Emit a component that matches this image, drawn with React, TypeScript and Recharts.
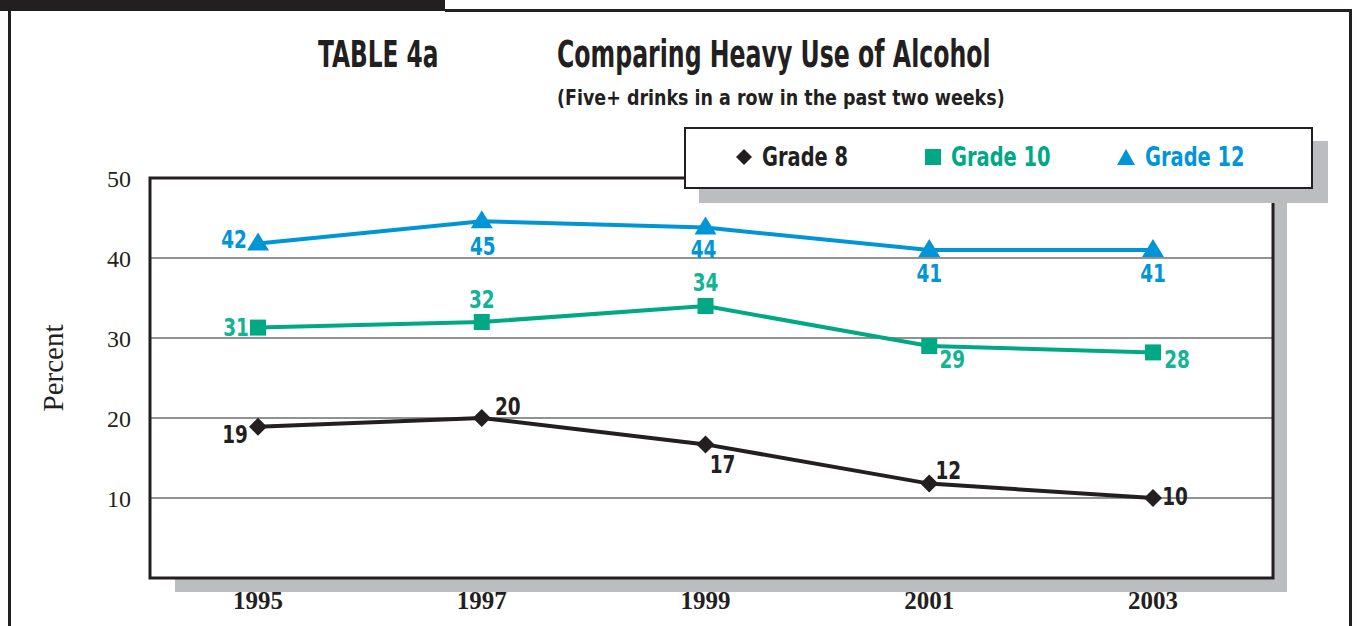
import { LineChart, Line, XAxis, YAxis, CartesianGrid, ReferenceArea, LabelList, Label } from 'recharts'

const years = ['1995', '1997', '1999', '2001', '2003']
const grade8 = [18.9, 20, 16.7, 11.8, 10]
const grade10 = [31.3, 32, 34, 29, 28.2]
const grade12 = [41.8, 44.6, 43.8, 41, 41]
const yTicks = [10, 20, 30, 40, 50]

const data = years.map((year, i) => ({ year, g8: grade8[i], g10: grade10[i], g12: grade12[i], frame: 0.5 }))

const DARK = '#231f20'
const GREEN = '#00a984'
const BLUE = '#0096d6'
const SHADOW = '#bcbdc0'
const COND = "'DejaVu Sans Condensed', 'Liberation Sans Narrow', sans-serif"
const SERIF = "'Liberation Serif', 'Times New Roman', serif"

// where each value label sits relative to its point
const off8 = [[-23, 7], [26, -12], [17, 20], [19, -13], [22, -2]]
const off10 = [[-22, 0], [0, -23], [0, -24], [23, 13], [24, 7]]
const off12 = [[-24, -4], [1, 25], [-2, 22], [0, 23], [0, 23]]

const Diamond = (p: any) => {
  const { cx, cy } = p
  return <path d={`M${cx},${cy - 9}L${cx + 9},${cy}L${cx},${cy + 9}L${cx - 9},${cy}Z`} fill={DARK} />
}
const Square = (p: any) => {
  const { cx, cy } = p
  return <rect x={cx - 8} y={cy - 8} width={16} height={16} fill={GREEN} />
}
const Triangle = (p: any) => {
  const { cx, cy } = p
  return <path d={`M${cx},${cy - 11}L${cx + 11},${cy + 7}L${cx - 11},${cy + 7}Z`} fill={BLUE} />
}

const valueLabel = (offsets: number[][], color: string) => (p: any) => {
  const { x, y, index, value } = p
  const [dx, dy] = offsets[index]
  return (
    <text transform={`translate(${x + dx} ${y + dy}) scale(0.82 1)`} textAnchor="middle" dominantBaseline="central" fill={color}
      style={{ fontFamily: COND, fontWeight: 700, fontSize: 25 }}>
      {Math.round(value)}
    </text>
  )
}

const PlotFrame = (p: any) => {
  const { x, y, width, height } = p
  const r = x + width
  const b = y + height
  return (
    <g>
      <path d={`M${r},${y + 12}H${r + 14}V${b + 14}H${x + 25}V${b}H${r}Z`} fill={SHADOW} />
      <rect x={x} y={y} width={width} height={height} fill="none" stroke={DARK} strokeWidth={3} />
    </g>
  )
}

const legendItems = [
  { name: 'Grade 8', color: DARK, left: 49, shape: 'diamond' },
  { name: 'Grade 10', color: GREEN, left: 238, shape: 'square' },
  { name: 'Grade 12', color: BLUE, left: 430, shape: 'triangle' },
]

function LegendMark({ shape, color }: { shape: string; color: string }) {
  if (shape === 'diamond') return <svg width={18} height={18}><path d="M9,1L17,9L9,17L1,9Z" fill={color} /></svg>
  if (shape === 'square') return <svg width={18} height={18}><rect x={1} y={1} width={16} height={16} fill={color} /></svg>
  return <svg width={20} height={18}><path d="M10,1L19,17L1,17Z" fill={color} /></svg>
}

const condText = (size: number, sx: number): any => ({
  fontFamily: COND, fontWeight: 700, fontSize: size, color: DARK, whiteSpace: 'nowrap',
  transform: `scaleX(${sx})`, transformOrigin: 'left center',
})

export default function App() {
  return (
    <div style={{ position: 'absolute', left: 0, top: 0, width: 1357, height: 626, background: '#fff', overflow: 'hidden' }}>
      {/* page frame */}
      <div style={{ position: 'absolute', left: 0, top: 0, width: 445, height: 11, background: DARK }} />
      <div style={{ position: 'absolute', left: 445, top: 9, width: 907, height: 3, background: DARK }} />
      <div style={{ position: 'absolute', left: 8, top: 9, width: 3, height: 620, background: DARK }} />
      <div style={{ position: 'absolute', left: 1349, top: 9, width: 3, height: 620, background: DARK }} />

      <div style={{ position: 'absolute', left: 318, top: 33, ...condText(37, 0.7) }}>TABLE 4a</div>
      <div style={{ position: 'absolute', left: 557, top: 33, ...condText(37, 0.71) }}>Comparing Heavy Use of Alcohol</div>
      <div style={{ position: 'absolute', left: 557, top: 86, ...condText(21, 0.925) }}>(Five+ drinks in a row in the past two weeks)</div>

      <div style={{ position: 'absolute', left: 0, top: 0 }}>
        <LineChart width={1357} height={626} data={data} margin={{ top: 178, right: 84, bottom: 8, left: 30 }}>
          <CartesianGrid vertical={false} stroke="#6d6e71" strokeWidth={1.5} />
          <XAxis dataKey="year" padding={{ left: 108, right: 120 }} axisLine={false} tickLine={false} height={40} tickMargin={7}
            tick={{ fill: DARK, fontFamily: SERIF, fontWeight: 700, fontSize: 25 }} />
          <XAxis xAxisId="frame" dataKey="frame" type="number" domain={[0, 1]} allowDataOverflow hide />
          <YAxis domain={[0, 50]} ticks={yTicks} width={120} axisLine={false} tickLine={false} tickMargin={13}
            tick={{ fill: DARK, fontFamily: SERIF, fontSize: 24 }}>
            <Label content={(p: any) => {
              const vb = p.viewBox
              const cx = vb.x + 23
              const cy = vb.y + vb.height / 2 - 10
              return (
                <text x={cx} y={cy} transform={`rotate(-90 ${cx} ${cy})`} textAnchor="middle" dominantBaseline="central"
                  fill={DARK} style={{ fontFamily: SERIF, fontSize: 29 }}>Percent</text>
              )
            }} />
          </YAxis>
          <ReferenceArea xAxisId="frame" x1={0} x2={1} y1={0} y2={50} shape={PlotFrame} ifOverflow="visible" />
          <Line dataKey="g8" stroke={DARK} strokeWidth={4} dot={Diamond} isAnimationActive={false}>
            <LabelList dataKey="g8" content={valueLabel(off8, DARK)} />
          </Line>
          <Line dataKey="g10" stroke={GREEN} strokeWidth={4} dot={Square} isAnimationActive={false}>
            <LabelList dataKey="g10" content={valueLabel(off10, '#14b394')} />
          </Line>
          <Line dataKey="g12" stroke={BLUE} strokeWidth={4} dot={Triangle} isAnimationActive={false}>
            <LabelList dataKey="g12" content={valueLabel(off12, BLUE)} />
          </Line>
        </LineChart>
      </div>

      {/* legend box */}
      <div style={{ position: 'absolute', left: 684, top: 127, width: 625, height: 58, border: `2.5px solid ${DARK}`, background: '#fff', boxShadow: `15px 14px 0 ${SHADOW}` }}>
        {legendItems.map(it => (
          <div key={it.name} style={{ position: 'absolute', left: it.left, top: 12, display: 'flex', alignItems: 'center', gap: 9 }}>
            <LegendMark shape={it.shape} color={it.color} />
            <span style={{ ...condText(27, 0.8), color: it.color }}>{it.name}</span>
          </div>
        ))}
      </div>
    </div>
  )
}
